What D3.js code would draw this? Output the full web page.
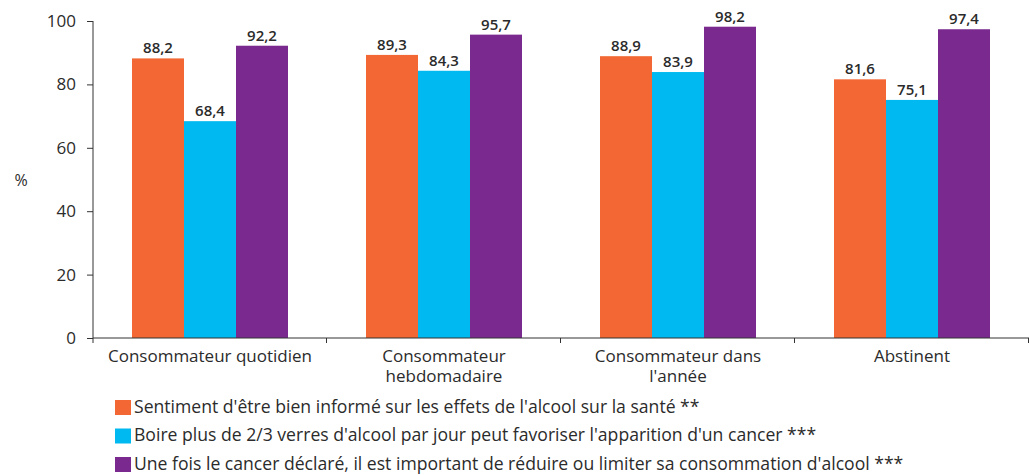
<!DOCTYPE html>
<html>
<head>
<meta charset="utf-8">
<script src="https://cdn.jsdelivr.net/npm/d3@7"></script>
<style>
  body { margin: 0; background: #fff; }
  text { font-family: "Open Sans", Roboto, sans-serif; fill: #2b2b2b; }
</style>
</head>
<body>
<div id="chart"></div>
<script>
// Data
const categories = [
    ['Consommateur quotidien'],
    ['Consommateur', 'hebdomadaire'],
    ['Consommateur dans', "l'année"],
    ['Abstinent']
];
const seriesNames = [
    "Sentiment d'être bien informé sur les effets de l'alcool sur la santé **",
    "Boire plus de 2/3 verres d'alcool par jour peut favoriser l'apparition d'un cancer ***",
    "Une fois le cancer déclaré, il est important de réduire ou limiter sa consommation d'alcool ***"
];
const informed = [88.2, 89.3, 88.9, 81.6];
const cancerRisk = [68.4, 84.3, 83.9, 75.1];
const reduce = [92.2, 95.7, 98.2, 97.4];
const yTicks = [0, 20, 40, 60, 80, 100];
const colors = ['#f26733', '#00b9f0', '#7a2a8f'];

const series = [informed, cancerRisk, reduce];
const catKeys = categories.map((c) => c.join(' '));

// Set up SVG container and dimensions
const width = 1030;
const height = 475;
const margin = { top: 21, left: 93, right: 1, bottom: 137 };
const innerH = height - margin.top - margin.bottom;

const svg = d3
    .select('#chart')
    .append('svg')
    .attr('width', width)
    .attr('height', height);

// Scales
const x0 = d3
    .scaleBand()
    .domain(catKeys)
    .range([margin.left, width - margin.right])
    .paddingInner(0)
    .paddingOuter(0);
const x1 = d3
    .scaleBand()
    .domain(d3.range(series.length))
    .range([x0.bandwidth() / 6, (x0.bandwidth() * 5) / 6]);
const y = d3
    .scaleLinear()
    .domain([0, 100])
    .range([margin.top + innerH, margin.top]);

// Bars
const groups = svg
    .append('g')
    .selectAll('g')
    .data(catKeys)
    .enter()
    .append('g')
    .attr('transform', (d) => `translate(${x0(d)},0)`);

groups
    .selectAll('rect')
    .data((d, i) => series.map((s, k) => ({ k, v: s[i] })))
    .enter()
    .append('rect')
    .attr('x', (d) => x1(d.k))
    .attr('y', (d) => y(d.v))
    .attr('width', x1.bandwidth())
    .attr('height', (d) => y(0) - y(d.v))
    .attr('fill', (d) => colors[d.k]);

groups
    .selectAll('text')
    .data((d, i) => series.map((s, k) => ({ k, v: s[i] })))
    .enter()
    .append('text')
    .attr('x', (d) => x1(d.k) + x1.bandwidth() / 2)
    .attr('y', (d) => y(d.v) - 5)
    .attr('text-anchor', 'middle')
    .style('font-size', '15px')
    .style('font-weight', '600')
    .text((d) => d.v.toFixed(1).replace('.', ','));

// Y axis
const yAxis = d3.axisLeft(y).tickValues(yTicks).tickSize(6).tickPadding(11);
const gy = svg
    .append('g')
    .attr('transform', `translate(${margin.left},0)`)
    .call(yAxis);
gy.select('.domain').attr('stroke', '#333').attr('d', `M0,${y(100)}V${y(0) + 5}`);
gy.selectAll('.tick line').attr('stroke', '#333');
gy.selectAll('.tick text')
    .style('font-size', '17px')
    .style('font-family', '"Open Sans", sans-serif')
    .attr('fill', '#2b2b2b');

svg.append('text')
    .attr('x', 21)
    .attr('y', 186)
    .attr('text-anchor', 'middle')
    .style('font-size', '16px')
    .text('%');

// X axis with boundary ticks
const xg = svg.append('g');
xg.append('line')
    .attr('x1', margin.left)
    .attr('x2', width - margin.right)
    .attr('y1', y(0))
    .attr('y2', y(0))
    .attr('stroke', '#333');
const bounds = catKeys.map((c) => x0(c)).concat([x0(catKeys[catKeys.length - 1]) + x0.bandwidth()]);
xg.selectAll('.bt')
    .data(bounds.slice(1))
    .enter()
    .append('line')
    .attr('x1', (d) => d - 0.5)
    .attr('x2', (d) => d - 0.5)
    .attr('y1', y(0))
    .attr('y2', y(0) + 5)
    .attr('stroke', '#333');

const labels = xg
    .selectAll('.cl')
    .data(categories)
    .enter()
    .append('text')
    .attr('text-anchor', 'middle')
    .attr('x', (d, i) => x0(catKeys[i]) + x0.bandwidth() / 2)
    .attr('y', y(0) + 24)
    .style('font-size', '17px');
labels
    .selectAll('tspan')
    .data((d) => d)
    .enter()
    .append('tspan')
    .attr('x', function () { return d3.select(this.parentNode).attr('x'); })
    .attr('dy', (d, i) => (i === 0 ? 0 : 20))
    .text((d) => d);

// Legend
const legend = svg
    .append('g')
    .selectAll('g')
    .data(seriesNames)
    .enter()
    .append('g')
    .attr('transform', (d, i) => `translate(115, ${400 + i * 28.5})`);
legend.append('rect')
    .attr('width', 16)
    .attr('height', 15)
    .attr('fill', (d, i) => colors[i]);
legend.append('text')
    .attr('x', 19)
    .attr('y', 12.5)
    .style('font-size', '17.6px')
    .text((d) => d);
</script>
</body>
</html>
